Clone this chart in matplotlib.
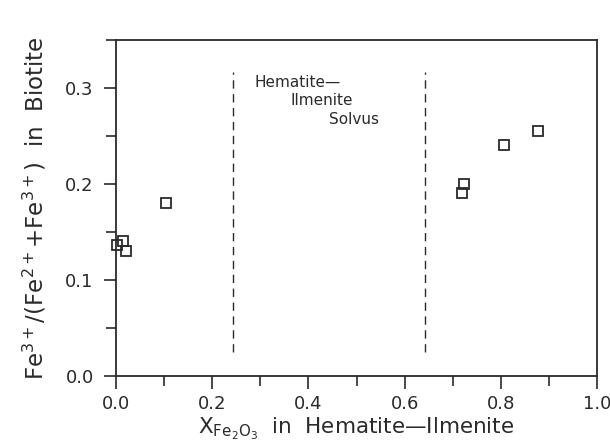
import matplotlib.pyplot as plt
from matplotlib.ticker import MultipleLocator

# Biotite Fe3+ ratio vs. hematite fraction in coexisting hematite-ilmenite
x_hem = [0.003, 0.014, 0.021, 0.104, 0.719, 0.723, 0.806, 0.876]
fe3_ratio = [0.136, 0.140, 0.130, 0.180, 0.191, 0.200, 0.241, 0.255]

# limits of the solvus gap
solvus_x = [0.243, 0.642]
solvus_y = (0.025, 0.317)

ink = '#2a2a2a'
dash = '\u2014'
plt.rcParams['font.family'] = 'DejaVu Sans'

fig = plt.figure(figsize=(6.10, 4.48), dpi=100)
ax = fig.add_axes([0.190, 0.161, 0.789, 0.750])

# open squares, drawn over the spine so the x~0 sample stays visible
ax.plot(x_hem, fe3_ratio, linestyle='none', marker='s', markersize=7,
        markerfacecolor='none', markeredgecolor=ink, markeredgewidth=1.3,
        clip_on=False, zorder=5)

for xs in solvus_x:
    ax.plot([xs, xs], solvus_y, color=ink, linestyle=(0, (6, 4)), linewidth=1.0)

ax.text(0.287, 0.306, 'Hematite' + dash, fontsize=11, color=ink, va='center')
ax.text(0.363, 0.287, 'Ilmenite', fontsize=11, color=ink, va='center')
ax.text(0.442, 0.267, 'Solvus', fontsize=11, color=ink, va='center')

ax.set_xlim(0, 1.0)
ax.set_ylim(0, 0.35)
ax.xaxis.set_major_locator(MultipleLocator(0.2))
ax.xaxis.set_minor_locator(MultipleLocator(0.1))
ax.yaxis.set_major_locator(MultipleLocator(0.1))
ax.yaxis.set_minor_locator(MultipleLocator(0.05))
ax.xaxis.set_major_formatter(lambda v, p: f'{v:.1f}')
ax.yaxis.set_major_formatter(lambda v, p: f'{v:.1f}')

ax.tick_params(which='both', direction='out', color=ink, width=1.2,
               labelsize=13, labelcolor=ink, top=False, right=False)
ax.tick_params(axis='x', which='major', length=9, pad=5)
ax.tick_params(axis='y', which='major', length=9, pad=7)
ax.tick_params(which='minor', length=7)
for s in ax.spines.values():
    s.set_color(ink)
    s.set_linewidth(1.3)

ax.set_xlabel(r'X$_{\mathregular{Fe_2O_3}}$  in  Hematite' + dash + 'Ilmenite',
              fontsize=15.5, color=ink, labelpad=2)
ax.set_ylabel(r'Fe$^{\mathregular{3+}}$/(Fe$^{\mathregular{2+}}$+Fe$^{\mathregular{3+}}$)  in  Biotite',
              fontsize=16.5, color=ink, labelpad=12)

fig.savefig('out.png', dpi=100, facecolor='white')
